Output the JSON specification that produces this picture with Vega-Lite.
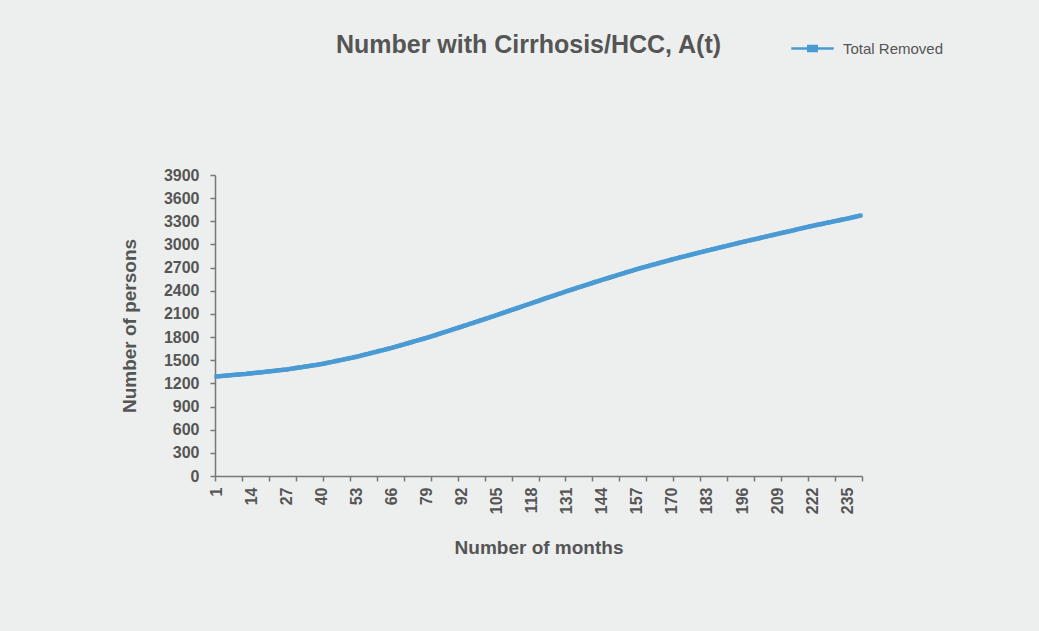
{
  "$schema": "https://vega.github.io/schema/vega-lite/v6.json",
  "autosize": "none",
  "width": 647,
  "height": 301,
  "padding": {"left": 215, "top": 175, "right": 177, "bottom": 155},
  "background": "#edefee",
  "title": {
    "text": "Number with Cirrhosis/HCC, A(t)",
    "anchor": "middle",
    "frame": "group",
    "dx": -10,
    "offset": -52,
    "baseline": "alphabetic",
    "font": "Liberation Sans",
    "fontSize": 25,
    "fontWeight": "bold",
    "color": "#555555"
  },
  "data": {
    "values": [
      {"month": 1, "persons": 1290}, {"month": 2, "persons": 1293}, {"month": 3, "persons": 1296}, {"month": 4, "persons": 1299},
      {"month": 5, "persons": 1302}, {"month": 6, "persons": 1305}, {"month": 7, "persons": 1308}, {"month": 8, "persons": 1311},
      {"month": 9, "persons": 1314}, {"month": 10, "persons": 1317}, {"month": 11, "persons": 1320}, {"month": 12, "persons": 1323},
      {"month": 13, "persons": 1327}, {"month": 14, "persons": 1330}, {"month": 15, "persons": 1334}, {"month": 16, "persons": 1338},
      {"month": 17, "persons": 1342}, {"month": 18, "persons": 1345}, {"month": 19, "persons": 1349}, {"month": 20, "persons": 1353},
      {"month": 21, "persons": 1357}, {"month": 22, "persons": 1361}, {"month": 23, "persons": 1365}, {"month": 24, "persons": 1369},
      {"month": 25, "persons": 1372}, {"month": 26, "persons": 1376}, {"month": 27, "persons": 1380}, {"month": 28, "persons": 1385},
      {"month": 29, "persons": 1391}, {"month": 30, "persons": 1396}, {"month": 31, "persons": 1402}, {"month": 32, "persons": 1407},
      {"month": 33, "persons": 1412}, {"month": 34, "persons": 1418}, {"month": 35, "persons": 1423}, {"month": 36, "persons": 1428},
      {"month": 37, "persons": 1434}, {"month": 38, "persons": 1439}, {"month": 39, "persons": 1445}, {"month": 40, "persons": 1450},
      {"month": 41, "persons": 1457}, {"month": 42, "persons": 1465}, {"month": 43, "persons": 1472}, {"month": 44, "persons": 1479},
      {"month": 45, "persons": 1487}, {"month": 46, "persons": 1494}, {"month": 47, "persons": 1501}, {"month": 48, "persons": 1508},
      {"month": 49, "persons": 1516}, {"month": 50, "persons": 1523}, {"month": 51, "persons": 1530}, {"month": 52, "persons": 1538},
      {"month": 53, "persons": 1545}, {"month": 54, "persons": 1554}, {"month": 55, "persons": 1563}, {"month": 56, "persons": 1572},
      {"month": 57, "persons": 1580}, {"month": 58, "persons": 1589}, {"month": 59, "persons": 1598}, {"month": 60, "persons": 1607},
      {"month": 61, "persons": 1616}, {"month": 62, "persons": 1625}, {"month": 63, "persons": 1633}, {"month": 64, "persons": 1642},
      {"month": 65, "persons": 1651}, {"month": 66, "persons": 1660}, {"month": 67, "persons": 1670}, {"month": 68, "persons": 1680},
      {"month": 69, "persons": 1690}, {"month": 70, "persons": 1700}, {"month": 71, "persons": 1710}, {"month": 72, "persons": 1720},
      {"month": 73, "persons": 1730}, {"month": 74, "persons": 1740}, {"month": 75, "persons": 1750}, {"month": 76, "persons": 1760},
      {"month": 77, "persons": 1770}, {"month": 78, "persons": 1780}, {"month": 79, "persons": 1790}, {"month": 80, "persons": 1801},
      {"month": 81, "persons": 1812}, {"month": 82, "persons": 1823}, {"month": 83, "persons": 1835}, {"month": 84, "persons": 1846},
      {"month": 85, "persons": 1857}, {"month": 86, "persons": 1868}, {"month": 87, "persons": 1879}, {"month": 88, "persons": 1890},
      {"month": 89, "persons": 1902}, {"month": 90, "persons": 1913}, {"month": 91, "persons": 1924}, {"month": 92, "persons": 1935},
      {"month": 93, "persons": 1947}, {"month": 94, "persons": 1958}, {"month": 95, "persons": 1970}, {"month": 96, "persons": 1981},
      {"month": 97, "persons": 1993}, {"month": 98, "persons": 2004}, {"month": 99, "persons": 2016}, {"month": 100, "persons": 2027},
      {"month": 101, "persons": 2039}, {"month": 102, "persons": 2050}, {"month": 103, "persons": 2062}, {"month": 104, "persons": 2073},
      {"month": 105, "persons": 2085}, {"month": 106, "persons": 2097}, {"month": 107, "persons": 2109}, {"month": 108, "persons": 2121},
      {"month": 109, "persons": 2133}, {"month": 110, "persons": 2145}, {"month": 111, "persons": 2157}, {"month": 112, "persons": 2168},
      {"month": 113, "persons": 2180}, {"month": 114, "persons": 2192}, {"month": 115, "persons": 2204}, {"month": 116, "persons": 2216},
      {"month": 117, "persons": 2228}, {"month": 118, "persons": 2240}, {"month": 119, "persons": 2252}, {"month": 120, "persons": 2264},
      {"month": 121, "persons": 2276}, {"month": 122, "persons": 2288}, {"month": 123, "persons": 2300}, {"month": 124, "persons": 2312},
      {"month": 125, "persons": 2323}, {"month": 126, "persons": 2335}, {"month": 127, "persons": 2347}, {"month": 128, "persons": 2359},
      {"month": 129, "persons": 2371}, {"month": 130, "persons": 2383}, {"month": 131, "persons": 2395}, {"month": 132, "persons": 2406},
      {"month": 133, "persons": 2417}, {"month": 134, "persons": 2428}, {"month": 135, "persons": 2440}, {"month": 136, "persons": 2451},
      {"month": 137, "persons": 2462}, {"month": 138, "persons": 2473}, {"month": 139, "persons": 2484}, {"month": 140, "persons": 2495},
      {"month": 141, "persons": 2507}, {"month": 142, "persons": 2518}, {"month": 143, "persons": 2529}, {"month": 144, "persons": 2540},
      {"month": 145, "persons": 2551}, {"month": 146, "persons": 2562}, {"month": 147, "persons": 2572}, {"month": 148, "persons": 2583},
      {"month": 149, "persons": 2594}, {"month": 150, "persons": 2605}, {"month": 151, "persons": 2615}, {"month": 152, "persons": 2626},
      {"month": 153, "persons": 2637}, {"month": 154, "persons": 2648}, {"month": 155, "persons": 2658}, {"month": 156, "persons": 2669},
      {"month": 157, "persons": 2680}, {"month": 158, "persons": 2690}, {"month": 159, "persons": 2699}, {"month": 160, "persons": 2709},
      {"month": 161, "persons": 2718}, {"month": 162, "persons": 2728}, {"month": 163, "persons": 2738}, {"month": 164, "persons": 2747},
      {"month": 165, "persons": 2757}, {"month": 166, "persons": 2767}, {"month": 167, "persons": 2776}, {"month": 168, "persons": 2786},
      {"month": 169, "persons": 2795}, {"month": 170, "persons": 2805}, {"month": 171, "persons": 2814}, {"month": 172, "persons": 2823},
      {"month": 173, "persons": 2832}, {"month": 174, "persons": 2840}, {"month": 175, "persons": 2849}, {"month": 176, "persons": 2858},
      {"month": 177, "persons": 2867}, {"month": 178, "persons": 2876}, {"month": 179, "persons": 2885}, {"month": 180, "persons": 2894},
      {"month": 181, "persons": 2902}, {"month": 182, "persons": 2911}, {"month": 183, "persons": 2920}, {"month": 184, "persons": 2928},
      {"month": 185, "persons": 2937}, {"month": 186, "persons": 2945}, {"month": 187, "persons": 2954}, {"month": 188, "persons": 2962},
      {"month": 189, "persons": 2971}, {"month": 190, "persons": 2979}, {"month": 191, "persons": 2988}, {"month": 192, "persons": 2996},
      {"month": 193, "persons": 3005}, {"month": 194, "persons": 3013}, {"month": 195, "persons": 3022}, {"month": 196, "persons": 3030},
      {"month": 197, "persons": 3038}, {"month": 198, "persons": 3046}, {"month": 199, "persons": 3054}, {"month": 200, "persons": 3062},
      {"month": 201, "persons": 3070}, {"month": 202, "persons": 3078}, {"month": 203, "persons": 3087}, {"month": 204, "persons": 3095},
      {"month": 205, "persons": 3103}, {"month": 206, "persons": 3111}, {"month": 207, "persons": 3119}, {"month": 208, "persons": 3127},
      {"month": 209, "persons": 3135}, {"month": 210, "persons": 3143}, {"month": 211, "persons": 3151}, {"month": 212, "persons": 3159},
      {"month": 213, "persons": 3167}, {"month": 214, "persons": 3175}, {"month": 215, "persons": 3183}, {"month": 216, "persons": 3192},
      {"month": 217, "persons": 3200}, {"month": 218, "persons": 3208}, {"month": 219, "persons": 3216}, {"month": 220, "persons": 3224},
      {"month": 221, "persons": 3232}, {"month": 222, "persons": 3240}, {"month": 223, "persons": 3247}, {"month": 224, "persons": 3255},
      {"month": 225, "persons": 3262}, {"month": 226, "persons": 3269}, {"month": 227, "persons": 3277}, {"month": 228, "persons": 3284},
      {"month": 229, "persons": 3291}, {"month": 230, "persons": 3299}, {"month": 231, "persons": 3306}, {"month": 232, "persons": 3313},
      {"month": 233, "persons": 3321}, {"month": 234, "persons": 3328}, {"month": 235, "persons": 3335}, {"month": 236, "persons": 3343},
      {"month": 237, "persons": 3351}, {"month": 238, "persons": 3359}, {"month": 239, "persons": 3367}, {"month": 240, "persons": 3375}
    ]
  },
  "encoding": {
    "x": {
      "field": "month",
      "type": "quantitative",
      "title": "Number of months",
      "scale": {"domain": [0.5, 240.5], "nice": false, "zero": false},
      "axis": {
        "values": [0.5, 10.5, 20.5, 30.5, 40.5, 50.5, 60.5, 70.5, 80.5, 90.5, 100.5, 110.5, 120.5, 130.5, 140.5, 150.5, 160.5, 170.5, 180.5, 190.5, 200.5, 210.5, 220.5, 230.5, 240.5,
                   1, 14, 27, 40, 53, 66, 79, 92, 105, 118, 131, 144, 157, 170, 183, 196, 209, 222, 235],
        "labelExpr": "floor(datum.value) == datum.value ? datum.label : ''",
        "tickOpacity": {"condition": {"test": "floor(datum.value) != datum.value", "value": 1}, "value": 0},
        "format": "d",
        "labelAngle": 270,
        "labelOverlap": false,
        "labelFlush": false,
        "labelBound": false,
        "grid": false,
        "tickSize": 5,
        "labelPadding": 6,
        "titlePadding": 25
      }
    },
    "y": {
      "field": "persons",
      "type": "quantitative",
      "title": "Number of persons",
      "scale": {"domain": [0, 3900], "nice": false},
      "axis": {
        "values": [0, 300, 600, 900, 1200, 1500, 1800, 2100, 2400, 2700, 3000, 3300, 3600, 3900],
        "format": "d",
        "grid": false,
        "tickSize": 5,
        "labelPadding": 11,
        "titlePadding": 24
      }
    }
  },
  "layer": [
    {
      "mark": {"type": "line", "strokeWidth": 4.5, "interpolate": "linear"},
      "encoding": {
        "color": {
          "datum": "Total Removed",
          "type": "nominal",
          "scale": {"domain": ["Total Removed"], "range": ["#4a9ad4"]},
          "legend": {
            "title": null,
            "orient": "none",
            "legendX": 575,
            "legendY": -149,
            "symbolType": "M-1,0H1M-0.2,-0.12H0.2V0.12H-0.2Z",
            "symbolSize": 1800,
            "symbolStrokeWidth": 2.5,
            "symbolFillColor": "#4a9ad4",
            "labelFont": "Liberation Sans",
            "labelFontSize": 15,
            "labelColor": "#555555",
            "labelOffset": 8
          }
        }
      }
    },
    {
      "mark": {"type": "point", "shape": "square", "filled": true, "size": 16, "color": "#4a9ad4", "opacity": 1}
    }
  ],
  "config": {
    "view": {"stroke": null},
    "axis": {
      "labelFont": "Liberation Sans",
      "labelFontSize": 16,
      "labelFontWeight": "bold",
      "labelColor": "#555555",
      "titleFont": "Liberation Sans",
      "titleFontSize": 19,
      "titleFontWeight": "bold",
      "titleColor": "#555555",
      "domainColor": "#777777",
      "tickColor": "#777777",
      "domainWidth": 1.5,
      "tickWidth": 1.5
    }
  }
}
